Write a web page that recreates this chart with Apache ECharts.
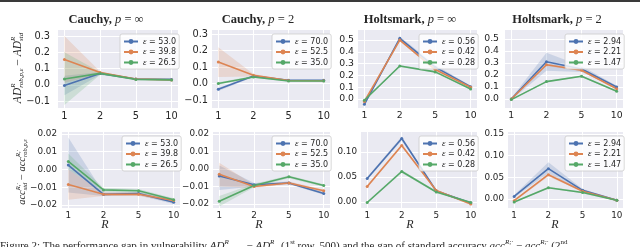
<!DOCTYPE html>
<html><head><meta charset="utf-8">
<script src="https://cdn.jsdelivr.net/npm/echarts@6/dist/echarts.min.js"></script>
<style>html,body{margin:0;padding:0;background:#fff;overflow:hidden}#c{width:640px;height:247px}</style>
</head><body><div id="c"></div>
<script>
// ---------------- DATA ----------------
const R_LABELS = ['1', '2', '5', '10'];
const R_POS = [0, 1, 2, 3];

const EPS_CAUCHY_INF = ['53.0', '39.8', '26.5'];
const EPS_CAUCHY_2 = ['70.0', '52.5', '35.0'];
const EPS_HOLTS_INF = ['0.56', '0.42', '0.28'];
const EPS_HOLTS_2 = ['2.94', '2.21', '1.47'];

// Row 1: AD_rob - AD_std   (each: [blue, orange, green])
const AD_CAUCHY_INF = [[-0.005, 0.070, 0.035, 0.033], [0.155, 0.075, 0.035, 0.030], [0.035, 0.070, 0.033, 0.030]];
const AD_CAUCHY_INF_LO = [[-0.065, 0.062, 0.031, 0.030], [0.012, 0.068, 0.031, 0.027], [-0.125, 0.062, 0.029, 0.027]];
const AD_CAUCHY_INF_HI = [[0.055, 0.078, 0.039, 0.036], [0.300, 0.082, 0.039, 0.033], [0.200, 0.078, 0.037, 0.033]];

const AD_CAUCHY_2 = [[-0.035, 0.045, 0.020, 0.020], [0.130, 0.050, 0.018, 0.017], [0.000, 0.040, 0.015, 0.015]];
const AD_CAUCHY_2_LO = [[-0.045, 0.040, 0.017, 0.017], [0.040, 0.042, 0.015, 0.014], [-0.008, 0.035, 0.012, 0.012]];
const AD_CAUCHY_2_HI = [[-0.025, 0.050, 0.023, 0.023], [0.220, 0.058, 0.021, 0.020], [0.008, 0.045, 0.018, 0.018]];

const AD_HOLTS_INF = [[-0.045, 0.515, 0.270, 0.105], [-0.020, 0.500, 0.250, 0.100], [-0.010, 0.280, 0.230, 0.085]];
const AD_HOLTS_INF_LO = [[-0.055, 0.500, 0.250, 0.098], [-0.030, 0.490, 0.240, 0.094], [-0.018, 0.272, 0.222, 0.080]];
const AD_HOLTS_INF_HI = [[-0.035, 0.530, 0.290, 0.112], [-0.010, 0.510, 0.260, 0.106], [-0.002, 0.288, 0.238, 0.090]];

const AD_HOLTS_2 = [[0.000, 0.310, 0.250, 0.100], [0.000, 0.285, 0.240, 0.085], [-0.005, 0.145, 0.190, 0.065]];
const AD_HOLTS_2_LO = [[-0.008, 0.235, 0.225, 0.090], [-0.006, 0.275, 0.232, 0.080], [-0.010, 0.140, 0.184, 0.060]];
const AD_HOLTS_2_HI = [[0.008, 0.385, 0.275, 0.110], [0.006, 0.295, 0.248, 0.090], [0.000, 0.150, 0.196, 0.070]];

// Row 2: acc_std - acc_rob
const ACC_CAUCHY_INF = [[0.0025, -0.0140, -0.0135, -0.0185], [-0.0085, -0.0140, -0.0140, -0.0175], [0.0045, -0.0115, -0.0120, -0.0170]];
const ACC_CAUCHY_INF_LO = [[-0.0130, -0.0150, -0.0145, -0.0195], [-0.0170, -0.0150, -0.0150, -0.0185], [0.0000, -0.0125, -0.0130, -0.0178]];
const ACC_CAUCHY_INF_HI = [[0.0180, -0.0130, -0.0125, -0.0175], [0.0000, -0.0130, -0.0130, -0.0165], [0.0090, -0.0105, -0.0110, -0.0162]];

const ACC_CAUCHY_2 = [[-0.0040, -0.0090, -0.0080, -0.0140], [-0.0030, -0.0100, -0.0080, -0.0125], [-0.0185, -0.0095, -0.0045, -0.0095]];
const ACC_CAUCHY_2_LO = [[-0.0120, -0.0100, -0.0088, -0.0148], [-0.0100, -0.0108, -0.0088, -0.0133], [-0.0215, -0.0105, -0.0053, -0.0103]];
const ACC_CAUCHY_2_HI = [[0.0020, -0.0080, -0.0072, -0.0132], [0.0035, -0.0092, -0.0072, -0.0117], [-0.0155, -0.0085, -0.0037, -0.0087]];

const ACC_HOLTS_INF = [[0.047, 0.127, 0.022, -0.002], [0.031, 0.113, 0.023, -0.004], [-0.001, 0.061, 0.020, -0.001]];
const ACC_HOLTS_INF_LO = [[0.044, 0.123, 0.020, -0.004], [0.028, 0.110, 0.021, -0.006], [-0.003, 0.058, 0.018, -0.003]];
const ACC_HOLTS_INF_HI = [[0.050, 0.131, 0.024, 0.000], [0.034, 0.116, 0.025, -0.002], [0.001, 0.064, 0.022, 0.001]];

const ACC_HOLTS_2 = [[0.006, 0.070, 0.020, -0.003], [-0.004, 0.056, 0.018, -0.003], [-0.007, 0.026, 0.015, -0.003]];
const ACC_HOLTS_2_LO = [[0.003, 0.060, 0.017, -0.005], [-0.006, 0.052, 0.016, -0.005], [-0.009, 0.024, 0.013, -0.005]];
const ACC_HOLTS_2_HI = [[0.009, 0.085, 0.023, -0.001], [-0.002, 0.060, 0.020, -0.001], [-0.005, 0.028, 0.017, -0.001]];

// y tick labels per panel
const YT_AD_CAUCHY = [-0.1, 0.0, 0.1, 0.2, 0.3];
const YT_AD_HOLTS = [0.0, 0.1, 0.2, 0.3, 0.4, 0.5];
const YT_ACC_CAUCHY = [-0.02, -0.01, 0.00, 0.01, 0.02];
const YT_ACC_HOLTS_INF = [0.00, 0.05, 0.10];
const YT_ACC_HOLTS_2 = [0.00, 0.05, 0.10, 0.15];

// ---------------- LAYOUT / STYLE ----------------
const COLORS = ['#4c72b0', '#dd8452', '#55a868'];
const SERIF = "'Liberation Serif', 'DejaVu Serif', serif";
const SANS = "'DejaVu Sans', sans-serif";
const TXT = '#262626';

const panels = [
  {eps: EPS_CAUCHY_INF, v: AD_CAUCHY_INF, lo: AD_CAUCHY_INF_LO, hi: AD_CAUCHY_INF_HI, yt: YT_AD_CAUCHY, dec: 1, yr: [-0.143, 0.337], left: 58, w: 120, top: 30, h: 78, m: 8, fs: 9.8},
  {eps: EPS_CAUCHY_2, v: AD_CAUCHY_2, lo: AD_CAUCHY_2_LO, hi: AD_CAUCHY_2_HI, yt: YT_AD_CAUCHY, dec: 1, yr: [-0.148, 0.324], left: 212, w: 118, top: 30, h: 78, m: 4, fs: 9.8},
  {eps: EPS_HOLTS_INF, v: AD_HOLTS_INF, lo: AD_HOLTS_INF_LO, hi: AD_HOLTS_INF_HI, yt: YT_AD_HOLTS, dec: 1, yr: [-0.076, 0.585], left: 358, w: 119, top: 30, h: 78, m: 4, fs: 9.3},
  {eps: EPS_HOLTS_2, v: AD_HOLTS_2, lo: AD_HOLTS_2_LO, hi: AD_HOLTS_2_HI, yt: YT_AD_HOLTS, dec: 1, yr: [-0.075, 0.575], left: 505, w: 118, top: 30, h: 78, m: 6, fs: 9.3},
  {eps: EPS_CAUCHY_INF, v: ACC_CAUCHY_INF, lo: ACC_CAUCHY_INF_LO, hi: ACC_CAUCHY_INF_HI, yt: YT_ACC_CAUCHY, dec: 2, yr: [-0.0217, 0.0211], left: 62, w: 118, top: 132, h: 76, m: 5, fs: 8.8},
  {eps: EPS_CAUCHY_2, v: ACC_CAUCHY_2, lo: ACC_CAUCHY_2_LO, hi: ACC_CAUCHY_2_HI, yt: YT_ACC_CAUCHY, dec: 2, yr: [-0.0223, 0.0211], left: 213, w: 117, top: 132, h: 76, m: 4, fs: 8.8},
  {eps: EPS_HOLTS_INF, v: ACC_HOLTS_INF, lo: ACC_HOLTS_INF_LO, hi: ACC_HOLTS_INF_HI, yt: YT_ACC_HOLTS_INF, dec: 2, yr: [-0.012, 0.14], left: 361, w: 116, top: 132, h: 76, m: 4, fs: 8.8},
  {eps: EPS_HOLTS_2, v: ACC_HOLTS_2, lo: ACC_HOLTS_2_LO, hi: ACC_HOLTS_2_HI, yt: YT_ACC_HOLTS_2, dec: 2, yr: [-0.0208, 0.1546], left: 508, w: 115, top: 132, h: 76, m: 4, fs: 8.8}
];

const fmt = (v, d) => (v < -1e-9 ? '\u2212' : '') + Math.abs(v).toFixed(d);

const grid = [], xAxis = [], yAxis = [], series = [], legend = [];
panels.forEach((p, i) => {
  grid.push({left: p.left, top: p.top, width: p.w, height: p.h, show: true, backgroundColor: '#eaeaf2', borderWidth: 0});
  xAxis.push({
    type: 'value', gridIndex: i, min: -0.18, max: 3.18,
    axisLine: {show: false},
    axisTick: {show: false, customValues: R_POS},
    axisLabel: {customValues: R_POS, formatter: v => R_LABELS[Math.round(v)], color: TXT, fontSize: p.fs, fontFamily: SANS, margin: 3},
    splitLine: {show: true, lineStyle: {color: '#ffffff', width: 1}}
  });
  yAxis.push({
    type: 'value', gridIndex: i, min: p.yr[0], max: p.yr[1],
    axisLine: {show: false},
    axisTick: {show: false, customValues: p.yt},
    axisLabel: {customValues: p.yt, formatter: v => fmt(v, p.dec), color: TXT, fontSize: p.fs, fontFamily: SANS, margin: p.m},
    splitLine: {show: true, lineStyle: {color: '#ffffff', width: 1}}
  });
  const names = p.eps.map(e => '\u03b5 = ' + e);
  p.v.forEach((vals, k) => {
    const lo = p.lo[k], hi = p.hi[k], col = COLORS[k];
    series.push({
      type: 'custom', name: 'band' + i + '_' + k, xAxisIndex: i, yAxisIndex: i, z: 1, silent: true,
      data: lo.map((l, j) => [R_POS[j], l, hi[j]]),
      encode: {x: 0, y: [1, 2]},
      renderItem: (params, api) => {
        if (params.dataIndex !== 0) return null;
        const top = hi.map((h, j) => api.coord([R_POS[j], h]));
        const bot = lo.map((l, j) => api.coord([R_POS[j], l])).reverse();
        return {type: 'polygon', shape: {points: top.concat(bot)}, style: {fill: col, opacity: 0.2}};
      }
    });
  });
  p.v.forEach((vals, k) => {
    const col = COLORS[k];
    series.push({
      type: 'line', name: names[k], xAxisIndex: i, yAxisIndex: i, z: 3, silent: true,
      data: vals.map((v, j) => [R_POS[j], v]),
      symbol: 'circle', symbolSize: 3, showSymbol: true,
      lineStyle: {width: 1.6, color: col}, itemStyle: {color: col}
    });
  });
  legend.push({
    data: names, orient: 'vertical', left: p.left + p.w - 58, top: p.top + 4,
    itemWidth: 14, itemHeight: 6, itemGap: 1.5, padding: [3, 3, 2, 3],
    backgroundColor: 'rgba(255,255,255,0.8)', borderColor: '#cccccc', borderWidth: 0.8, borderRadius: 2,
    selectedMode: false,
    textStyle: {fontSize: 8, fontFamily: SANS, color: TXT, lineHeight: 9,
      rich: {e: {fontStyle: 'italic', fontFamily: SERIF, fontSize: 9, color: TXT}}},
    formatter: n => '{e|\u03b5}' + n.slice(1)
  });
});

// ---------- math-like text helper ----------
const cv = document.createElement('canvas').getContext('2d');
function tw(t, size, style, weight, fam) { cv.font = `${style} ${weight} ${size}px ${fam}`; return cv.measureText(t).width; }
function mathText(cx, cy, rotation, items, anchor) {
  let x = 0; const ch = [];
  const place = (it, x0) => {
    const st = it.st || 'normal', w = it.w || 'normal', f = it.f || SERIF, s = it.s;
    ch.push({type: 'text', x: x0, y: it.dy || 0, style: {text: it.t, fontSize: s, fontStyle: st, fontWeight: w, fontFamily: f, fill: TXT, align: 'left', verticalAlign: 'middle'}});
    return tw(it.t, s, st, w, f);
  };
  items.forEach(it => {
    if (it.sup || it.sub) {
      const a = it.sup ? place(it.sup, x) : 0;
      const b = it.sub ? place(it.sub, x) : 0;
      x += Math.max(a, b);
    } else x += place(it, x);
  });
  const off = anchor === 'left' ? 0 : x / 2;
  ch.forEach(c => { c.x -= off; });
  return {type: 'group', x: cx, y: cy, rotation: rotation, children: ch};
}

const graphic = [];
graphic.push({type: 'rect', shape: {x: 0, y: 0, width: 640, height: 2}, style: {fill: '#3a3a3a'}, silent: true});

const TITLES = [['Cauchy,', '\u221e', 106], ['Cauchy,', '2', 258], ['Holtsmark,', '\u221e', 410], ['Holtsmark,', '2', 557]];
TITLES.forEach(([a, b, x]) => {
  graphic.push(mathText(x, 20, 0, [
    {t: a + ' ', s: 12.5, w: 'bold'},
    {t: 'p', s: 12.5, st: 'italic'},
    {t: ' = ' + b, s: 12.5}
  ]));
});
[105, 259, 410, 555].forEach(x => {
  graphic.push(mathText(x, 225, 0, [{t: 'R', s: 12, st: 'italic'}]));
});

// y-axis labels (rotated)
graphic.push(mathText(18, 68, Math.PI / 2, [
  {t: 'AD', s: 11.5, st: 'italic'},
  {sup: {t: 'R', s: 7, st: 'italic', dy: -4.5}, sub: {t: 'rob,p,\u03b5', s: 7, st: 'italic', dy: 3.5}},
  {t: ' \u2212 ', s: 11.5},
  {t: 'AD', s: 11.5, st: 'italic'},
  {sup: {t: 'R', s: 7, st: 'italic', dy: -4.5}, sub: {t: 'std', s: 7, st: 'italic', dy: 3.5}}
]));
graphic.push(mathText(22, 172, Math.PI / 2, [
  {t: 'acc', s: 10.5, st: 'italic'},
  {sup: {t: 'R,\u00b7', s: 6.5, st: 'italic', dy: -4}, sub: {t: 'std', s: 6.5, st: 'italic', dy: 3.5}},
  {t: ' \u2212 ', s: 10.5},
  {t: 'acc', s: 10.5, st: 'italic'},
  {sup: {t: 'R,\u00b7', s: 6.5, st: 'italic', dy: -4}, sub: {t: 'rob,p,\u03b5', s: 6.5, st: 'italic', dy: 3.5}}
]));

// caption (cut off at bottom)
graphic.push(mathText(0, 246, 0, [
  {t: 'Figure 2: The performance gap in vulnerability ', s: 11},
  {t: 'AD', s: 11, st: 'italic'},
  {sup: {t: 'R', s: 7, st: 'italic', dy: -4}, sub: {t: 'rob,p,\u03b5', s: 7, st: 'italic', dy: 3}},
  {t: ' \u2212 ', s: 11},
  {t: 'AD', s: 11, st: 'italic'},
  {sup: {t: 'R', s: 7, st: 'italic', dy: -4}, sub: {t: 'std', s: 7, st: 'italic', dy: 3}},
  {t: ' (1', s: 11}, {sup: {t: 'st', s: 7, dy: -4}}, {t: ' row, 500) and the gap of standard accuracy ', s: 11},
  {t: 'acc', s: 11, st: 'italic'},
  {sup: {t: 'R;\u00b7', s: 7, st: 'italic', dy: -4}},
  {t: ' \u2212 ', s: 11},
  {t: 'acc', s: 11, st: 'italic'},
  {sup: {t: 'R;\u00b7', s: 7, st: 'italic', dy: -4}},
  {t: ' (2', s: 11}, {sup: {t: 'nd', s: 7, dy: -4}}
], 'left'));

const chart = echarts.init(document.getElementById('c'), null, {renderer: 'canvas'});
chart.setOption({animation: false, backgroundColor: '#ffffff', grid, xAxis, yAxis, series, legend, graphic});
</script>
</body></html>
